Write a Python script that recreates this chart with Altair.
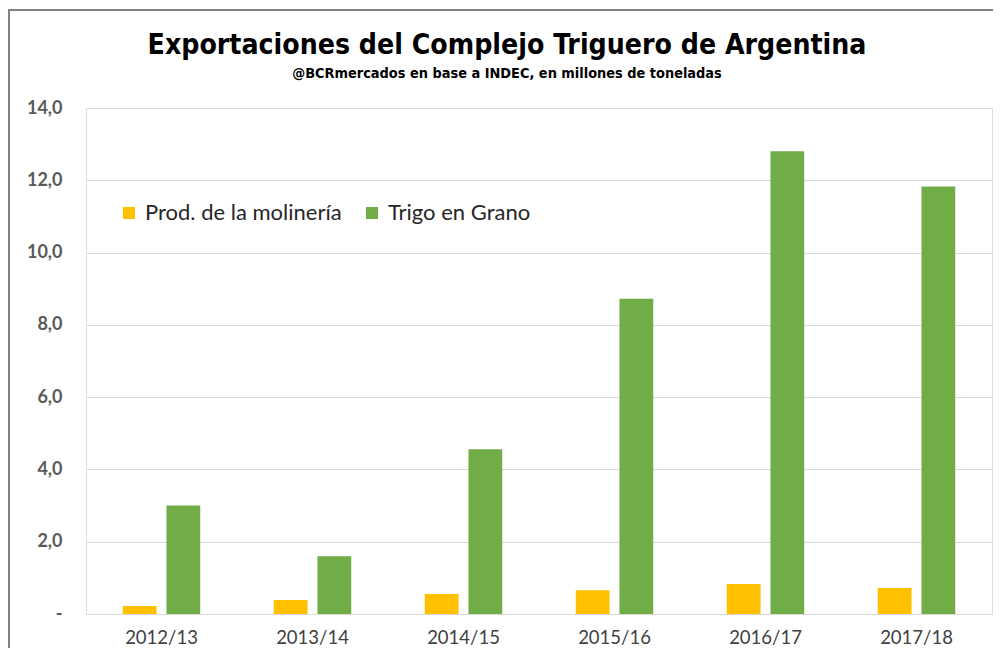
import altair as alt
import pandas as pd

campanas = ["2012/13", "2013/14", "2014/15", "2015/16", "2016/17", "2017/18"]
molineria = [0.22, 0.39, 0.55, 0.66, 0.83, 0.72]
trigo = [3.0, 1.6, 4.56, 8.72, 12.8, 11.83]
series = ["Prod. de la molinería", "Trigo en Grano"]
colores = ["#FFC000", "#70AD47"]
ticks_y = [0, 2, 4, 6, 8, 10, 12, 14]

rows = []
for c, m, t in zip(campanas, molineria, trigo):
    rows.append({"campana": c, "serie": series[0], "valor": m})
    rows.append({"campana": c, "serie": series[1], "valor": t})
df = pd.DataFrame(rows)

narrow = "DejaVu Sans Condensed, sans-serif"

bars = alt.Chart(df).mark_bar().encode(
    x=alt.X(
        "campana:N",
        sort=campanas,
        scale=alt.Scale(paddingInner=0.487, paddingOuter=0.2435),
        axis=alt.Axis(
            title=None, labelAngle=0, ticks=False, grid=False,
            domainColor="#d9d9d9", domainWidth=1,
            labelFont="Lato", labelFontSize=18.5, labelColor="#404040",
            labelPadding=14,
        ),
    ),
    xOffset=alt.XOffset(
        "serie:N", sort=series,
        scale=alt.Scale(paddingInner=0.227, paddingOuter=0),
    ),
    y=alt.Y(
        "valor:Q",
        scale=alt.Scale(domain=[0, 14], nice=False),
        axis=alt.Axis(
            title=None, values=ticks_y, domain=False, ticks=False,
            gridColor="#d9d9d9", gridWidth=1,
            labelExpr="datum.value == 0 ? '-' : replace(format(datum.value, '.1f'), '.', ',')",
            labelFont="Lato", labelFontSize=18, labelFontWeight="bold",
            labelColor="#595959", labelPadding=24,
        ),
    ),
    color=alt.Color(
        "serie:N",
        sort=series,
        scale=alt.Scale(domain=series, range=colores),
        legend=alt.Legend(
            title=None, orient="none", legendX=32, legendY=94,
            direction="horizontal", symbolType="square", symbolSize=144,
            symbolStrokeWidth=0, labelFont="Lato", labelFontSize=22,
            labelColor="#262626", labelOffset=5, columnPadding=19,
            labelLimit=400,
        ),
    ),
)

frame_df = pd.DataFrame({"k": [0]})
frame_left = alt.Chart(frame_df).mark_rule(color="#808080", strokeWidth=2).encode(
    x=alt.value(-77), y=alt.value(-98), y2=alt.value(560)
)
frame_top = alt.Chart(frame_df).mark_rule(color="#808080", strokeWidth=2).encode(
    x=alt.value(-78), x2=alt.value(920), y=alt.value(-98)
)

chart = alt.layer(frame_left, frame_top, bars).properties(
    width=906,
    height=506,
    autosize=alt.AutoSizeParams(type="none"),
    padding={"left": 78, "top": 100, "right": 1, "bottom": 34},
    title=alt.Title(
        "Exportaciones del Complejo Triguero de Argentina",
        subtitle="@BCRmercados en base a INDEC, en millones de toneladas",
        font=narrow, fontSize=28.2, fontWeight="bold", color="black",
        subtitleFont=narrow, subtitleFontSize=14.4, subtitleFontWeight="bold",
        subtitleColor="black", subtitlePadding=6,
        anchor="middle", dx=-32, offset=-72,
    ),
).configure_view(stroke=None).configure(background="white")

chart.save("out.html", embed_options={"renderer": "svg", "actions": False})
